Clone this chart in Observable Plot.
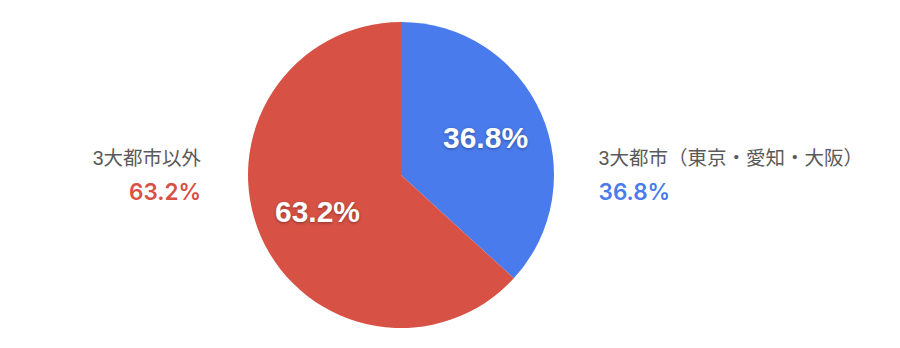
<!DOCTYPE html>
<html><head><meta charset="utf-8">
<script src="https://cdn.jsdelivr.net/npm/d3@7"></script>
<script src="https://cdn.jsdelivr.net/npm/@observablehq/plot@0.6"></script>
<style>
html,body{margin:0;padding:0;background:#fff;}
.inner text{ text-shadow: 0 1px 3px rgba(0,0,0,0.35); }
</style>
</head><body>
<div id="chart"></div>
<script>
const categories = ["3大都市（東京・愛知・大阪）", "3大都市以外"];
const shares = [36.8, 63.2];
const sliceColors = ["#4a7bec", "#d75145"];
const valueLabels = ["36.8%", "63.2%"];

const rows = categories.map((c, i) => ({name: c, share: shares[i], color: sliceColors[i], label: valueLabels[i]}));
const arcs = d3.pie().sort(null).value(d => d.share)(rows);
const inner = arcs.map(a => {
  const mid = (a.startAngle + a.endAngle) / 2;
  return {x: 0.6 * Math.sin(mid), y: -0.6 * Math.cos(mid), label: a.data.label};
});
const side = arcs.map(a => {
  const mid = (a.startAngle + a.endAngle) / 2;
  const right = Math.sin(mid) >= 0;
  return {x: right ? 1.288 : -1.31, anchor: right ? "start" : "end", name: a.data.name, label: a.data.label, color: a.data.color};
});

const R = 153, CX = 401, CY = 175, W = 900, H = 348;

function slices(index, scales) {
  const cx = scales.x(0), cy = scales.y(0), r = scales.x(1) - scales.x(0);
  const g = d3.create("svg:g");
  const arc = d3.arc().innerRadius(0).outerRadius(r);
  g.selectAll("path").data(arcs).join("path")
    .attr("transform", `translate(${cx},${cy})`)
    .attr("d", arc)
    .attr("fill", d => d.data.color);
  return g.node();
}

const font = "'Liberation Sans', 'Noto Sans CJK JP', sans-serif";
const pctFont = "Inter, 'Liberation Sans', sans-serif";
const left = side.filter(d => d.anchor === "end");
const right = side.filter(d => d.anchor === "start");
const chart = Plot.plot({
  width: W, height: H,
  margin: 0,
  x: {axis: null, domain: [-CX / R, (W - CX) / R], range: [0, W]},
  y: {axis: null, domain: [-CY / R, (H - CY) / R], range: [0, H]},
  style: {fontFamily: font, background: "#fff"},
  marks: [
    slices,
    Plot.text(inner, {x: "x", y: "y", text: "label", fill: "white", fontSize: 30, fontWeight: "bold", fontFamily: font, className: "inner"}),
    Plot.text(left, {x: "x", y: () => -0.111, text: "name", textAnchor: "end", fill: "#5a5a5a", fontSize: 19.5, fontFamily: font}),
    Plot.text(right, {x: "x", y: () => -0.111, text: "name", textAnchor: "start", fill: "#5a5a5a", fontSize: 19.5, fontFamily: font}),
    Plot.text(left, {x: "x", y: () => 0.111, text: "label", textAnchor: "end", fill: "color", fontSize: 22.5, fontWeight: 600, fontFamily: pctFont}),
    Plot.text(right, {x: "x", y: () => 0.111, text: "label", textAnchor: "start", fill: "color", fontSize: 22.5, fontWeight: 600, fontFamily: pctFont})
  ]
});
document.getElementById("chart").appendChild(chart);
</script>
</body></html>
